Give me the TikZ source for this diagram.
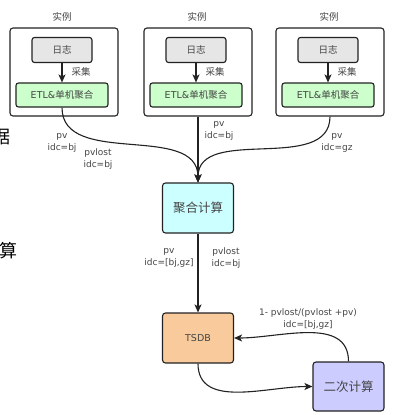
\documentclass[tikz,border=0pt]{standalone}
\usepackage{fontspec}
\setmainfont{DejaVu Sans}
\newfontfamily\cjk{Noto Sans CJK SC}
\usetikzlibrary{arrows.meta}
\definecolor{linec}{HTML}{222222}
\definecolor{textc}{HTML}{444444}
\definecolor{loggrey}{HTML}{E6E6E6}
\definecolor{etlgreen}{HTML}{CCFFCC}
\definecolor{aggcyan}{HTML}{CCFFFF}
\definecolor{tsdborange}{HTML}{F9CB9C}
\definecolor{seclilac}{HTML}{CCCCFF}
\tikzstyle{inst}=[draw=linec, line width=1.1pt, rounded corners=3pt, fill=white, inner sep=0pt, minimum width=108pt, minimum height=88pt]
\tikzstyle{logbox}=[draw=linec, line width=1.1pt, rounded corners=2.5pt, fill=loggrey, inner sep=0pt, minimum width=60pt, minimum height=25pt, text=textc, font=\cjk\fontsize{9.5}{11}\selectfont]
\tikzstyle{etlbox}=[logbox, fill=etlgreen, minimum width=92pt, minimum height=24pt, font=\fontsize{9.5}{11}\selectfont]
\tikzstyle{stage}=[draw=linec, line width=1.1pt, rounded corners=3pt, inner sep=0pt, minimum width=71pt, minimum height=50pt, text=textc, font=\cjk\fontsize{12.5}{14}\selectfont]
\tikzstyle{lbl}=[inner sep=0pt, align=center, text=textc, font=\fontsize{9}{12}\selectfont]
\tikzstyle{cjklbl}=[lbl, font=\cjk\fontsize{9.5}{11}\selectfont]
\newcommand{\stage}{\node[stage]}
\newcommand{\lbl}{\node[lbl]}

\begin{document}
\begin{tikzpicture}[x=1pt, y=-1pt
    ,every edge/.style={
        draw=linec, line width=1.1pt,
        -{Stealth[length=8pt,width=7pt,inset=2pt]} }
]
\useasboundingbox (0,0) rectangle (400,415);
% cut-off characters at the left edge
\node[inner sep=0pt, font=\cjk\fontsize{18}{20}\selectfont] (cutA) at (1,137) {据};
\node[inner sep=0pt, font=\cjk\fontsize{18}{20}\selectfont] (cutB) at (8,251) {算};
% instances
\node[inst] (instA) at (64,72) {};
\node[inst] (instB) at (198,72) {};
\node[inst] (instC) at (330,72) {};
\node[cjklbl] (nameA) at (62,17) {实例};
\node[cjklbl] (nameB) at (197,17) {实例};
\node[cjklbl] (nameC) at (329,17) {实例};
\node[logbox] (logA) at (62,50) {日志};
\node[logbox] (logB) at (196,50) {日志};
\node[logbox] (logC) at (328,50) {日志};
\node[etlbox] (etlA) at (62,95) {ETL\&{\cjk 单机聚合}};
\node[etlbox] (etlB) at (196,95) {ETL\&{\cjk 单机聚合}};
\node[etlbox] (etlC) at (328,95) {ETL\&{\cjk 单机聚合}};
\node[cjklbl] (getA) at (81,72) {采集};
\node[cjklbl] (getB) at (215,72) {采集};
\node[cjklbl] (getC) at (347,72) {采集};
% computing
\stage[fill=aggcyan] (agg) at (198,208) {聚合计算};
\stage[fill=tsdborange, font=\fontsize{9.5}{11}\selectfont] (tsdb) at (198,338) {TSDB};
\stage[fill=seclilac, minimum height=49pt] (sec) at (348.5,386.5) {二次计算};
% labels
\lbl (pvA) at (62,143) {pv\\idc=bj};
\lbl (lostA) at (98,159) {pvlost\\idc=bj};
\lbl (pvB) at (219,131) {pv\\idc=bj};
\lbl (pvC) at (337,143) {pv\\idc=gz};
\lbl (pvAll) at (169,258) {pv\\idc=[bj,gz]};
\lbl (lostAll) at (226,258) {pvlost\\idc=bj};
\lbl (ratio) at (308,319) {1- pvlost/(pvlost +pv)\\idc=[bj,gz]};
\path
(logA) edge (etlA)
(logB) edge (etlB)
(logC) edge (etlC)
(etlA.south) edge[out=-90, in=90] (agg.north)
(instB.south) edge (agg.north)
(instC.south) edge[out=-90, in=90] (agg.north)
(agg) edge (tsdb)
(tsdb.south) edge[out=-90, in=180] (sec.west)
(sec.north) edge[out=90, in=0] (tsdb.east)
;
\end{tikzpicture}
\end{document}
